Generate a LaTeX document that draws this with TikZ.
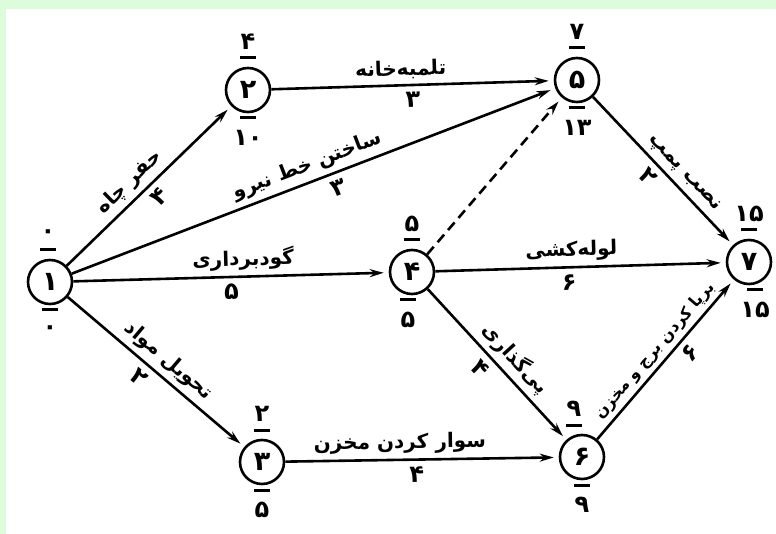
\documentclass[tikz,border=0pt]{standalone}
\usepackage{fontspec}
\usepackage{tikz}
\usepackage{xcolor}
\usetikzlibrary{arrows.meta}
\TeXXeTstate=1
\newfontfamily\fa[Script=Arabic]{DejaVu Sans}
\definecolor{bggreen}{RGB}{220,252,220}

\begin{document}
\begin{tikzpicture}[x=1pt,y=-1pt,
    evt/.style={draw, circle, line width=2.6pt, minimum size=44pt, inner sep=0pt,
      font=\fa\bfseries\fontsize{27}{27}\selectfont},
    act/.style={line width=2.6pt, shorten >=5pt, -{Stealth[length=14pt,width=8pt]}},
    lbl/.style={sloped, inner sep=3pt, font=\fa\bfseries\fontsize{20}{20}\selectfont},
    dur/.style={sloped, inner sep=2pt, font=\fa\bfseries\fontsize{24}{24}\selectfont},
    num/.style={inner sep=0pt, font=\fa\bfseries\fontsize{24}{24}\selectfont},
    bar/.style={line width=3pt}]
  % frame
  \fill[bggreen] (0,0) rectangle (776,534);
  \fill[white] (6,9) rectangle (776,534);

  % events: earliest time above, latest time below
  \foreach \n/\x/\y/\d/\t/\b/\tx/\bx in {
      1/50/282/۱/۰/۰/-2/0,
      2/248/90/۲/۴/۱۰/0/0,
      3/262/462/۳/۲/۵/0/0,
      4/412/272/۴/۵/۵/0/-4,
      5/577/80/۵/۷/۱۳/0/0,
      6/582/457/۶/۹/۹/-8/0,
      7/749/262/۷/۱۵/۱۵/0/6}{
    \node[evt] (e\n) at (\x,\y) {\d};
    \node[num] (top\n) at (\x+\tx,\y-48) {\t};
    \draw[bar] (\x+\tx-8,\y-32) -- (\x+\tx+8,\y-32);
    \draw[bar] (\x+\bx-8,\y+28) -- (\x+\bx+8,\y+28);
    \node[num] (bot\n) at (\x+\bx,\y+48) {\b};
  }

  % activities
  \draw[act] (e1) -- node[lbl,above=2pt,pos=.45] (a12) {\beginR حفر چاه\endR}
    node[dur,below=4pt,pos=.5] (d12) {۴} (e2);
  \draw[act] (e1) -- node[lbl,above=2pt,pos=.5] (a15) {\beginR ساختن خط نیرو\endR}
    node[dur,below=4pt,pos=.54] (d15) {۳} (e5);
  \draw[act] (e2) -- node[lbl,above=2pt,pos=.46] (a25) {\beginR تلمبه^^^^200cخانه\endR}
    node[dur,below=4pt,pos=.5] (d25) {۳} (e5);
  \draw[act] (e1) -- node[lbl,above=2pt,pos=.54] (a14) {\beginR گودبرداری\endR}
    node[dur,below=4pt,pos=.5] (d14) {۵} (e4);
  \draw[act] (e1) -- node[lbl,above=2pt,pos=.51] (a13) {\beginR تحویل مواد\endR}
    node[dur,below=4pt,pos=.46] (d13) {۲} (e3);
  \draw[act, dash pattern=on 10pt off 6pt] (e4) -- (e5);
  \draw[act] (e4) -- node[lbl,above=2pt,pos=.47] (a47) {\beginR لوله^^^^200cکشی\endR}
    node[dur,below=4pt,pos=.46] (d47) {۶} (e7);
  \draw[act] (e5) -- node[lbl,above=2pt,pos=.58] (a57) {\beginR نصب پمپ\endR}
    node[dur,below=4pt,pos=.47] (d57) {۲} (e7);
  \draw[act] (e3) -- node[lbl,above=2pt,pos=.42] (a36) {\beginR سوار کردن مخزن\endR}
    node[dur,below=4pt,pos=.48] (d36) {۴} (e6);
  \draw[act] (e4) -- node[lbl,above=2pt,pos=.54] (a46) {\beginR پی^^^^200cگذاری\endR}
    node[dur,below=4pt,pos=.46] (d46) {۴} (e6);
  \draw[act] (e6) -- node[lbl,above=1pt,pos=.5,font=\fa\bfseries\fontsize{16}{16}\selectfont] (a67)
    {\beginR برپا کردن برج و مخزن\endR}
    node[dur,below=4pt,pos=.6] (d67) {۶} (e7);
\end{tikzpicture}
\end{document}
